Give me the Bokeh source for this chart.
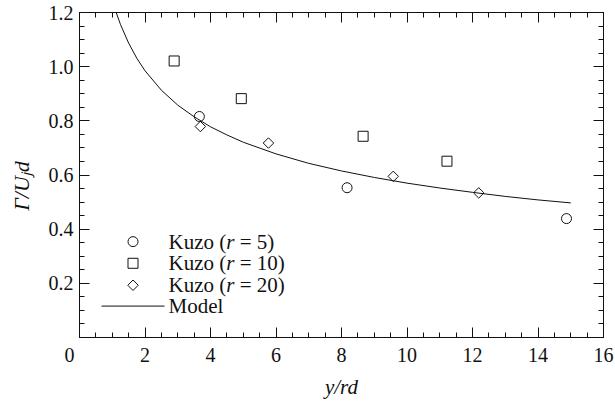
import numpy as np
from bokeh.plotting import figure
from bokeh.models import (LinearAxis, FixedTicker, Range1d,
                          CustomJSTickFormatter)
from bokeh.core.properties import value
from bokeh.embed import file_html
from bokeh.resources import INLINE

# Kuzo circulation data, Gamma/(U_j d) against y/(r d)
r5_x = [3.66, 8.17, 14.87]
r5_y = [0.816, 0.553, 0.439]

r10_x = [2.89, 4.94, 8.66, 11.22]
r10_y = [1.021, 0.882, 0.743, 0.651]

r20_x = [3.69, 5.77, 9.58, 12.19]
r20_y = [0.779, 0.718, 0.595, 0.534]

# model curve
model_x = [1.12, 1.25, 1.5, 1.75, 2.0, 2.5, 3.0, 3.5, 4.0, 4.5, 5.0,
           6.0, 7.0, 8.0, 9.0, 10.0, 11.0, 12.0, 13.0, 14.0, 15.0]
model_y = [1.200, 1.156, 1.087, 1.031, 0.985, 0.913, 0.858, 0.815, 0.778,
           0.748, 0.721, 0.678, 0.643, 0.615, 0.591, 0.570, 0.552, 0.536,
           0.521, 0.508, 0.497]

x_ticks = [0, 2, 4, 6, 8, 10, 12, 14, 16]
y_ticks = [0.2, 0.4, 0.6, 0.8, 1.0, 1.2]
r_values = ["5", "10", "20"]

FONT = "Liberation Serif"
INK = "#111111"

p = figure(width=615, height=401,
           x_range=Range1d(0, 16), y_range=Range1d(0, 1.2),
           output_backend="svg", toolbar_location=None,
           min_border_left=79, min_border_right=12,
           min_border_top=12, min_border_bottom=61,
           x_axis_location=None, y_axis_location=None)
p.xgrid.visible = False
p.ygrid.visible = False
p.outline_line_color = INK
p.background_fill_color = "white"
p.border_fill_color = "white"

x_minor = list(np.arange(0, 16.001, 0.5))
y_minor = list(np.round(np.arange(0, 1.2001, 0.05), 3))


def style_axis(ax, ticks, minor, show_labels):
    ax.ticker = FixedTicker(ticks=ticks, minor_ticks=minor)
    ax.major_tick_in = 10
    ax.major_tick_out = 0
    ax.minor_tick_in = 5
    ax.minor_tick_out = 0
    for attr in ("axis_line_color", "major_tick_line_color",
                 "minor_tick_line_color"):
        setattr(ax, attr, INK)
    ax.axis_line_width = 1
    ax.major_label_text_font = FONT
    if show_labels:
        ax.major_label_text_color = INK
        ax.major_label_text_font_size = "20px"
        ax.major_label_standoff = 6
    else:
        ax.major_label_text_color = None
        ax.major_label_text_font_size = "1px"
        ax.major_label_standoff = 0
        ax.formatter = CustomJSTickFormatter(code="return '';")


bottom = LinearAxis()
style_axis(bottom, x_ticks, x_minor, True)
# the origin label is nudged left of the corner
bottom.formatter = CustomJSTickFormatter(
    code="return tick == 0 ? '0\\u2002\\u2002' : tick.toFixed(0);")
bottom.axis_label = "y/rd"
bottom.axis_label_text_font = FONT
bottom.axis_label_text_font_style = "italic"
bottom.axis_label_text_font_size = "21px"
bottom.axis_label_text_color = INK
bottom.axis_label_standoff = 6

left = LinearAxis()
style_axis(left, y_ticks, y_minor, True)
left.formatter = CustomJSTickFormatter(code="return tick.toFixed(1);")
# trailing spaces push the title slightly toward the bottom of the axis
left.axis_label = "\u0393/U\u2c7cd\u2002\u2002"
left.axis_label_text_font = FONT
left.axis_label_text_font_style = "italic"
left.axis_label_text_font_size = "22px"
left.axis_label_text_color = INK
left.axis_label_standoff = 12

top = LinearAxis()
style_axis(top, x_ticks, x_minor, False)
right = LinearAxis()
style_axis(right, y_ticks, y_minor, False)

p.add_layout(bottom, "below")
p.add_layout(left, "left")
p.add_layout(top, "above")
p.add_layout(right, "right")

# data and model
p.line(model_x, model_y, line_color=INK, line_width=1)
p.scatter(r5_x, r5_y, marker="circle", size=10, fill_color=None,
          line_color=INK, line_width=1)
p.scatter(r10_x, r10_y, marker="square", size=10, fill_color=None,
          line_color=INK, line_width=1)
p.scatter(r20_x, r20_y, marker="square", angle=np.pi / 4, size=7.4,
          fill_color=None, line_color=INK, line_width=1)

# legend block (data-space anchor of the key column and rows)
key_x = 1.634
row_y = [0.354, 0.274, 0.193, 0.116]
text_x = 2.718
key_style = dict(fill_color=None, line_color=INK, line_width=1)
p.scatter([key_x], [row_y[0]], marker="circle", size=10, **key_style)
p.scatter([key_x], [row_y[1]], marker="square", size=10, **key_style)
p.scatter([key_x], [row_y[2]], marker="square", angle=np.pi / 4, size=7.4,
          **key_style)
p.line([0.672, 2.595], [row_y[3], row_y[3]], line_color=INK, line_width=1)

txt = dict(text_font=value(FONT), text_font_size="21px", text_color=INK,
           text_align="left", text_baseline="middle")
p.text([text_x] * 3, row_y[:3], text=["Kuzo ("] * 3, **txt)
p.text([text_x] * 3, row_y[:3], text=["r"] * 3, x_offset=57.7,
       text_font_style="italic", **txt)
p.text([text_x] * 3, row_y[:3], text=["= %s)" % r for r in r_values],
       x_offset=71.2, **txt)
p.text([text_x], [row_y[3]], text=["Model"], **txt)

open("out.html", "w").write(file_html(p, INLINE))
